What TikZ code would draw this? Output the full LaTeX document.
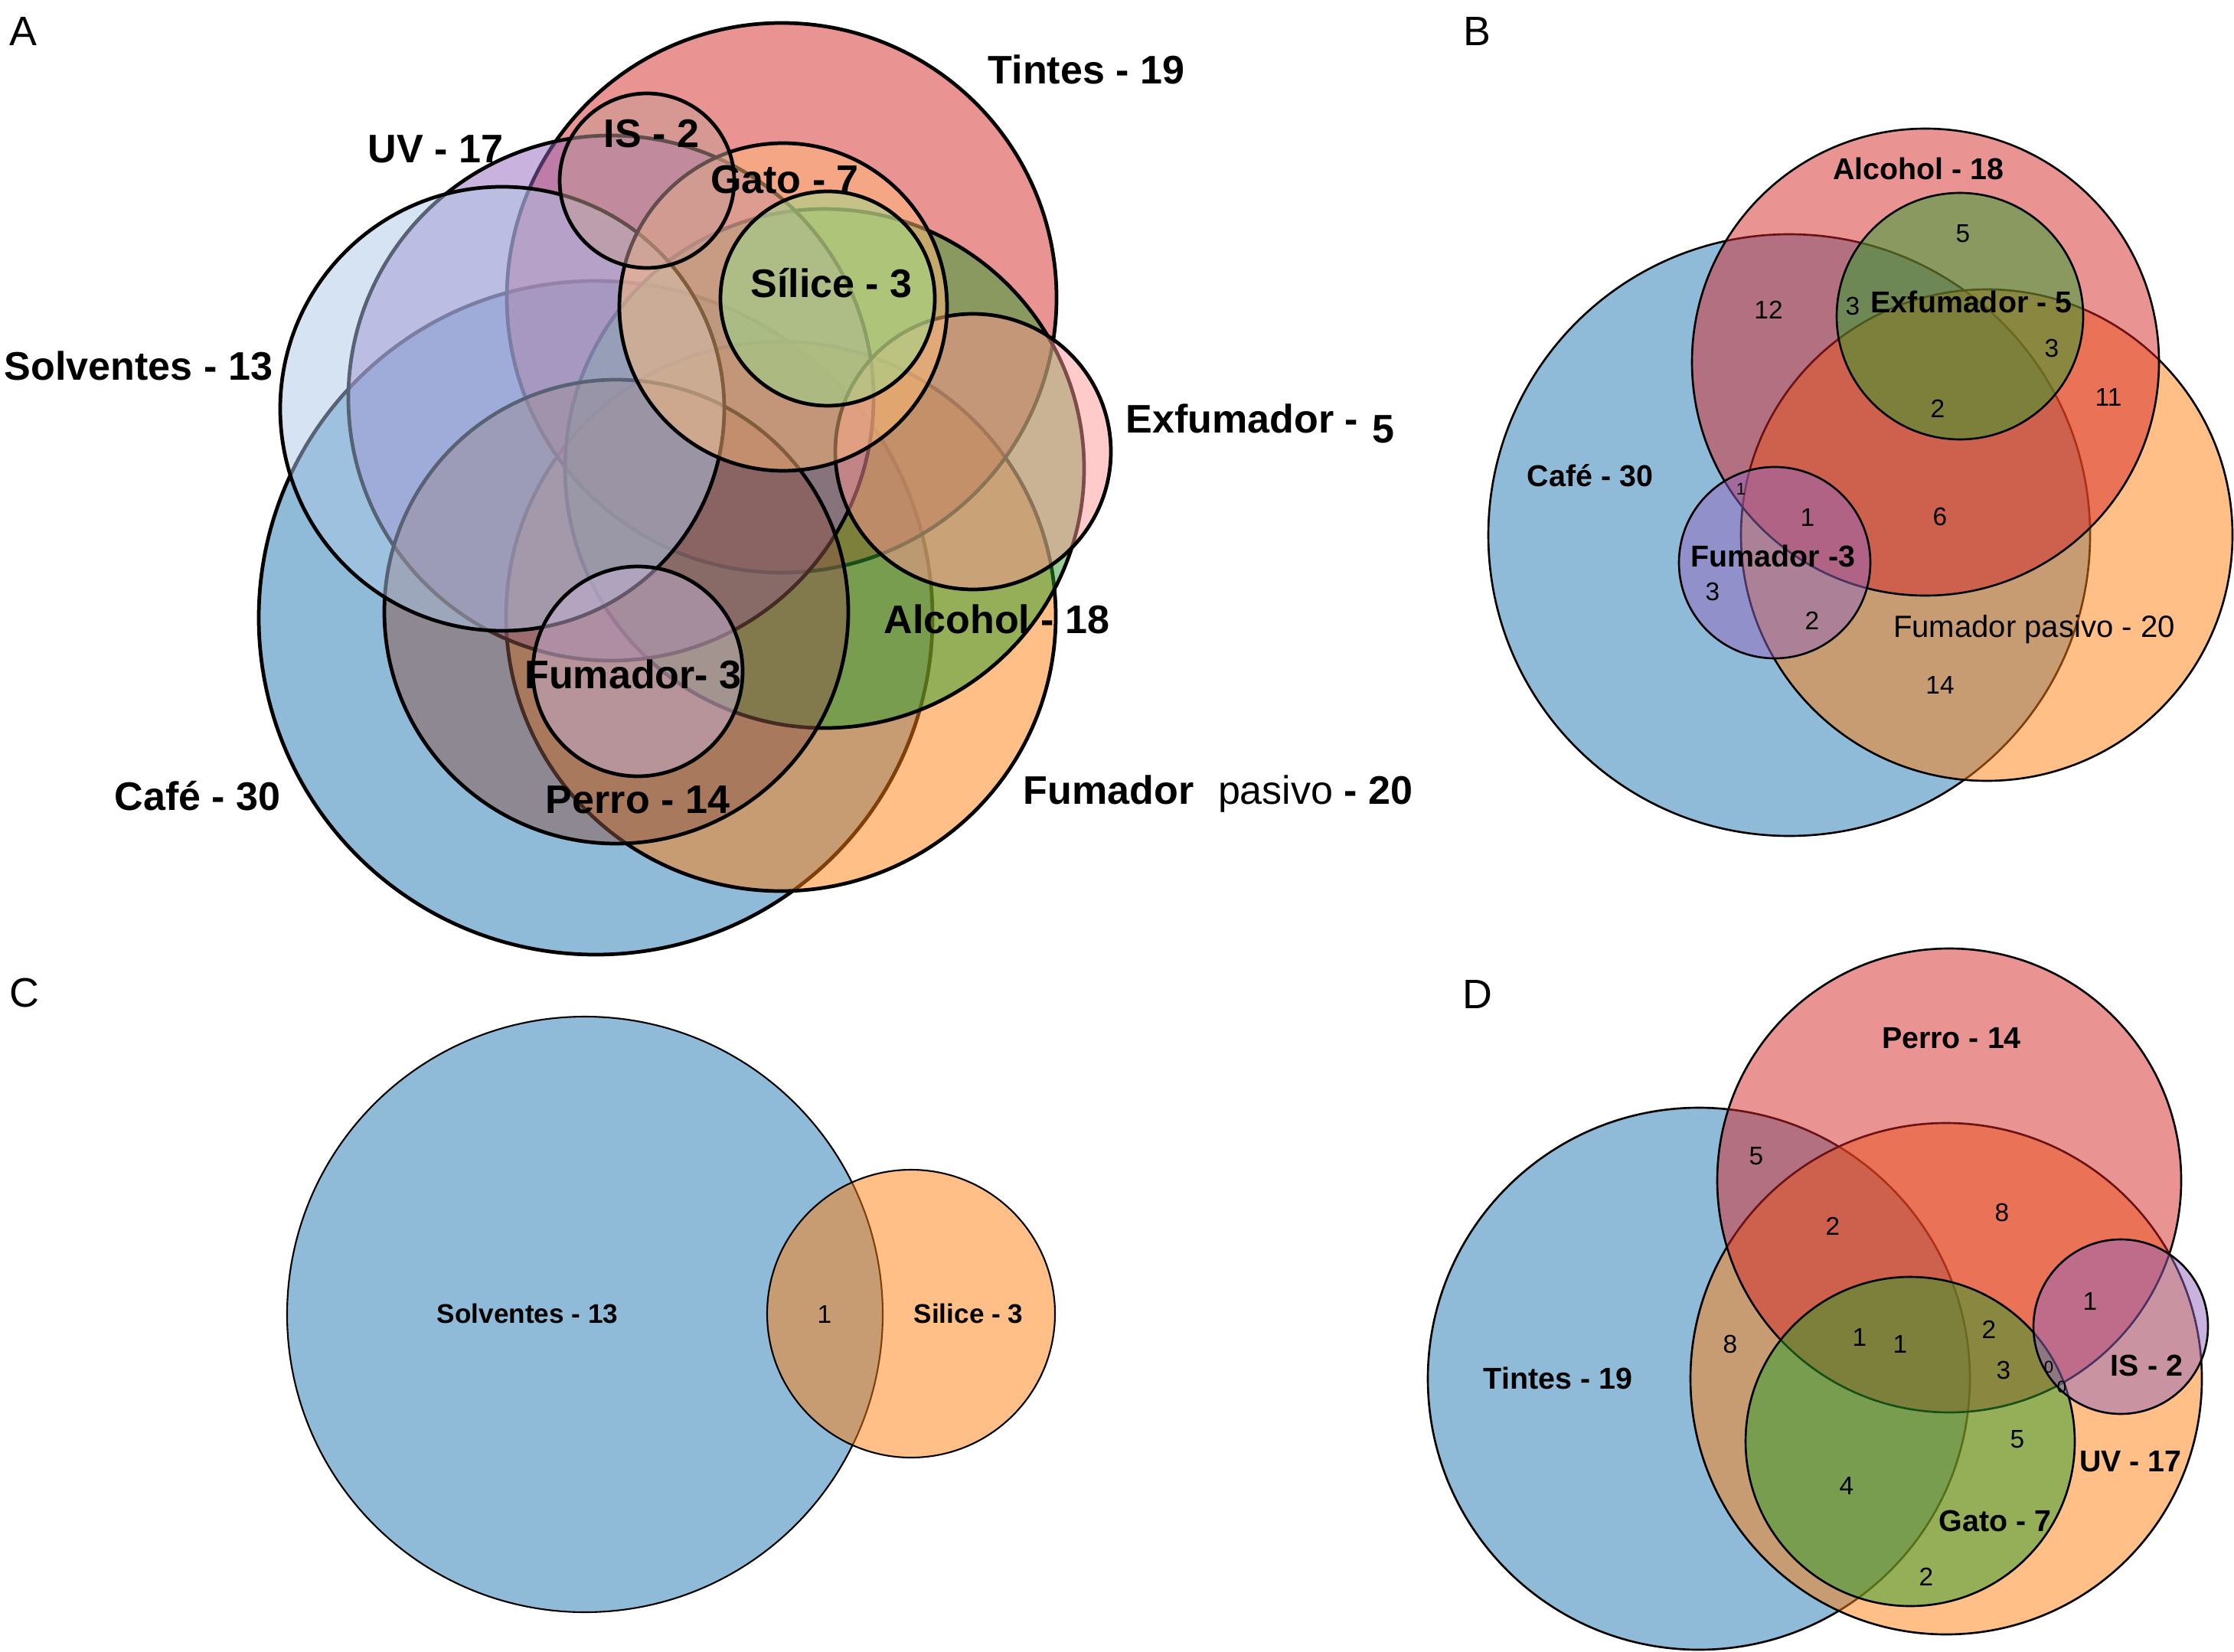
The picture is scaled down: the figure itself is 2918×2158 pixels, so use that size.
\documentclass[tikz,border=0pt]{standalone}
\usepackage{fontspec}
\setmainfont{Liberation Sans}
\usepackage{tikz}
\usetikzlibrary{positioning}
\definecolor{tabblue}{HTML}{1F77B4}
\definecolor{taborange}{HTML}{FF7F0E}
\definecolor{tabgreen}{HTML}{2CA02C}
\definecolor{tabred}{HTML}{D62728}
\definecolor{tabpurple}{HTML}{9467BD}
\definecolor{tabbrown}{HTML}{8C564B}
\definecolor{ltblue}{HTML}{AEC7E8}
\definecolor{ltorange}{HTML}{FFBB78}
\definecolor{ltgreen}{HTML}{98DF8A}
\definecolor{ltred}{HTML}{FF9896}
\definecolor{ltpurple}{HTML}{C5B0D5}
\definecolor{ltbrown}{HTML}{C49C94}
\begin{document}
\begin{tikzpicture}[x=0.01cm, y=0.01cm,
    soft/.style={fill opacity=0.5},
    rimA/.style={black, line width=1.35pt},
    rimB/.style={black, line width=0.75pt},
    rimC/.style={black, line width=0.6pt},
    labA/.style={font=\fontsize{14.8}{17}\selectfont\bfseries, anchor=base},
    labB/.style={font=\fontsize{11.2}{13}\selectfont\bfseries, anchor=base},
    labC/.style={font=\fontsize{10}{12}\selectfont\bfseries, anchor=base},
    numB/.style={font=\fontsize{9.5}{11}\selectfont, anchor=base},
    tinynum/.style={font=\fontsize{6.3}{7}\selectfont, anchor=base},
    panel/.style={font=\fontsize{15.3}{18}\selectfont, anchor=base west}]
                \tikzstyle{every node}+=[inner sep=0pt]
                \useasboundingbox (0,0) rectangle (2918,-2158);
                % A
                \fill [tabblue, soft] (778,-807) circle (440);
                \draw [rimA] (778,-807) circle (440);
                \fill [taborange, soft] (1020,-805) circle (359);
                \draw [rimA] (1020,-805) circle (359);
                \fill [tabred, soft] (1021,-389) circle (359);
                \draw [rimA] (1021,-389) circle (359);
                \fill [tabgreen, soft] (1077,-612) circle (339);
                \draw [rimA] (1077,-612) circle (339);
                \fill [tabpurple, soft] (798,-520) circle (343);
                \draw [rimA] (798,-520) circle (343);
                \fill [ltred, soft] (1271,-590) circle (180);
                \draw [rimA] (1271,-590) circle (180);
                \fill [tabbrown, soft] (805,-799) circle (303);
                \draw [rimA] (805,-799) circle (303);
                \fill [ltblue, soft] (656,-534) circle (290);
                \draw [rimA] (656,-534) circle (290);
                \fill [ltorange, soft] (1023,-401) circle (214);
                \draw [rimA] (1023,-401) circle (214);
                \fill [ltgreen, soft] (1081,-390) circle (140);
                \draw [rimA] (1081,-390) circle (140);
                \fill [ltbrown, soft] (845,-236) circle (114);
                \draw [rimA] (845,-236) circle (114);
                \fill [ltpurple, soft] (833,-877) circle (137);
                \draw [rimA] (833,-877) circle (137);
                \node [panel] (pA) at (12,-60) {A};
                \node [labA] (aTin) at (1419,-110) {Tintes - 19};
                \node [labA] (aUV) at (569,-213) {UV - 17};
                \node [labA] (aIS) at (851,-193) {IS - 2};
                \node [labA] (aGat) at (1025,-253) {Gato - 7};
                \node [labA] (aSil) at (1086,-389) {Sílice - 3};
                \node [labA] (aSol) at (181,-496) {Solventes - 13};
                \node [labA, anchor=base west] (aExf) at (1470,-565) {Exfumador -\hspace{1pt} \raisebox{-3.7pt}{5}};
                \node [labA] (aAlc) at (1302,-827) {Alcohol - 18};
                \node [labA] (aFum) at (827,-899) {Fumador- 3};
                \node [labA] (aPer) at (833,-1062) {Perro - 14};
                \node [labA] (aCaf) at (258,-1058) {Café - 30};
                \node [labA, anchor=base west] (aFPa) at (1336,-1050) {Fumador\hspace{9pt}\mdseries pasivo\hspace{4pt}\bfseries - 20};
                % B
                \fill [tabblue, soft] (2337,-699) circle (393);
                \draw [rimB] (2337,-699) circle (393);
                \fill [taborange, soft] (2595,-699) circle (321);
                \draw [rimB] (2595,-699) circle (321);
                \fill [tabred, soft] (2515,-473) circle (305);
                \draw [rimB] (2515,-473) circle (305);
                \fill [tabgreen, soft] (2560,-413) circle (161);
                \draw [rimB] (2560,-413) circle (161);
                \fill [tabpurple, soft] (2318,-735) circle (125);
                \draw [rimB] (2318,-735) circle (125);
                \node [panel] (pB) at (1911,-60) {B};
                \node [labB] (bAlc) at (2506,-235) {Alcohol - 18};
                \node [labB] (bExf) at (2575,-409) {Exfumador - 5};
                \node [labB] (bCaf) at (2077,-635) {Café - 30};
                \node [labB] (bFum) at (2316,-740) {Fumador -3};
                \node [font=\fontsize{11.4}{13}\selectfont, anchor=base] (bFPa) at (2657,-832) {Fumador pasivo - 20};
                \node [numB] (b5) at (2564,-317) {5};
                \node [numB] (b12) at (2310,-417) {12};
                \node [numB] (b3a) at (2420,-412) {3};
                \node [numB] (b3b) at (2680,-466) {3};
                \node [numB] (b11) at (2754,-531) {11};
                \node [numB] (b2a) at (2531,-545) {2};
                \node [tinynum] (b1a) at (2274,-646) {1};
                \node [numB] (b1b) at (2361,-687) {1};
                \node [numB] (b6) at (2534,-686) {6};
                \node [numB] (b3c) at (2237,-784) {3};
                \node [numB] (b2b) at (2367,-822) {2};
                \node [numB] (b14) at (2534,-906) {14};
                % C
                \fill [tabblue, soft] (764,-1717) circle (389);
                \draw [rimC] (764,-1717) circle (389);
                \fill [taborange, soft] (1190,-1716) circle (188);
                \draw [rimC] (1190,-1716) circle (188);
                \node [panel] (pC) at (12,-1315) {C};
                \node [labC] (cSol) at (689,-1728) {Solventes - 13};
                \node [numB] (c1) at (1077,-1728) {1};
                \node [labC] (cSil) at (1265,-1728) {Silice - 3};
                % D
                \fill [tabblue, soft] (2219,-1801) circle (354);
                \draw [rimB] (2219,-1801) circle (354);
                \fill [taborange, soft] (2542,-1801) circle (334);
                \draw [rimB] (2542,-1801) circle (334);
                \fill [tabred, soft] (2546,-1542) circle (303);
                \draw [rimB] (2546,-1542) circle (303);
                \fill [tabgreen, soft] (2495,-1883) circle (215);
                \draw [rimB] (2495,-1883) circle (215);
                \fill [tabpurple, soft] (2770,-1733) circle (114);
                \draw [rimB] (2770,-1733) circle (114);
                \node [panel] (pD) at (1910,-1317) {D};
                \node [labB] (dPer) at (2549,-1369) {Perro - 14};
                \node [labB] (dTin) at (2035,-1814) {Tintes - 19};
                \node [labB] (dIS) at (2804,-1797) {IS - 2};
                \node [labB] (dUV) at (2783,-1922) {UV - 17};
                \node [labB] (dGat) at (2606,-2000) {Gato - 7};
                \node [numB] (d5a) at (2294,-1521) {5};
                \node [numB] (d2a) at (2394,-1613) {2};
                \node [numB] (d8a) at (2615,-1595) {8};
                \node [numB] (d1a) at (2730,-1711) {1};
                \node [numB] (d8b) at (2260,-1767) {8};
                \node [numB] (d1b) at (2429,-1758) {1};
                \node [numB] (d1c) at (2482,-1767) {1};
                \node [numB] (d2b) at (2598,-1748) {2};
                \node [numB] (d3) at (2617,-1801) {3};
                \node [tinynum] (d0a) at (2676,-1793) {0};
                \node [tinynum] (d0b) at (2693,-1819) {0};
                \node [numB] (d5b) at (2635,-1891) {5};
                \node [numB] (d4) at (2412,-1952) {4};
                \node [numB] (d2c) at (2516,-2071) {2};
\end{tikzpicture}
\end{document}
